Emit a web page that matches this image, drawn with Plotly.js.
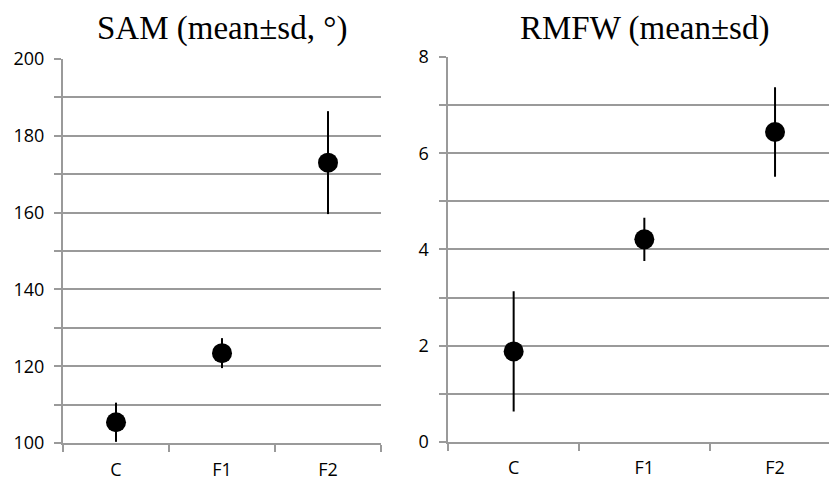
<!DOCTYPE html>
<html>
<head>
<meta charset="utf-8">
<script src="https://cdn.plot.ly/plotly-3.0.1.min.js"></script>
<style>html,body{margin:0;padding:0;background:#fff;}#chart{width:829px;height:480px;}</style>
</head>
<body>
<div id="chart"></div>
<script>
const categories = ["C", "F1", "F2"];
const samMean = [105.4, 123.4, 173.0];
const samSd = [5.1, 3.9, 13.4];
const rmfwMean = [1.88, 4.21, 6.44];
const rmfwSd = [1.25, 0.45, 0.93];
const samTickVals = [100, 110, 120, 130, 140, 150, 160, 170, 180, 190, 200];
const samTickText = ["100", "", "120", "", "140", "", "160", "", "180", "", "200"];
const rmfwTickVals = [0, 1, 2, 3, 4, 5, 6, 7, 8];
const rmfwTickText = ["0", "", "2", "", "4", "", "6", "", "8"];
const samTitle = "SAM (mean±sd, °)";
const rmfwTitle = "RMFW (mean±sd)";

const gridColor = "#9a9a9a";
const tickFont = {family: "Open Sans", size: 18, color: "#000"};

function pointTrace(y, sd, xa, ya) {
  return {
    type: "scatter", mode: "markers", x: categories, y: y,
    xaxis: xa, yaxis: ya,
    marker: {color: "#000", size: 20},
    error_y: {type: "data", array: sd, visible: true, color: "#000", thickness: 2, width: 0},
    hoverinfo: "skip", showlegend: false
  };
}

const data = [
  pointTrace(samMean, samSd, "x", "y"),
  pointTrace(rmfwMean, rmfwSd, "x2", "y2")
];

function xAxis(domain, anchor, range) {
  return {
    domain: domain, anchor: anchor, type: "category", range: range,
    tickson: "boundaries", ticks: "outside", ticklen: 7, tickwidth: 2, tickcolor: gridColor,
    showline: true, linecolor: gridColor, linewidth: 2,
    showgrid: false, zeroline: false, tickfont: tickFont, ticklabelstandoff: 9,
    fixedrange: true
  };
}
function yAxis(domain, anchor, range, vals, text, standoff) {
  return {
    domain: domain, anchor: anchor, range: range, tickmode: "array", tickvals: vals, ticktext: text,
    ticks: "outside", ticklen: 7, tickwidth: 2, tickcolor: gridColor,
    showline: true, linecolor: gridColor, linewidth: 2,
    showgrid: true, gridcolor: gridColor, gridwidth: 2,
    zeroline: false, tickfont: tickFont, ticklabelstandoff: standoff,
    fixedrange: true
  };
}

const layout = {
  width: 829, height: 480,
  margin: {l: 0, r: 0, t: 57, b: 37},
  paper_bgcolor: "#fff", plot_bgcolor: "#fff",
  showlegend: false,
  xaxis: xAxis([0.076, 0.4596], "y", [-0.5, 2.5]),
  yaxis: yAxis([0, 0.995], "x", [100, 200], samTickVals, samTickText, 6),
  xaxis2: xAxis([0.5408, 1.0], "y2", [-0.5, 2.413]),
  yaxis2: yAxis([0.003, 1.0], "x2", [0, 8], rmfwTickVals, rmfwTickText, 7),
  annotations: [
    {text: samTitle, xref: "paper", yref: "paper", x: 0.268, y: 1.075, xanchor: "center", yanchor: "middle",
     showarrow: false, font: {family: "Liberation Serif", size: 33, color: "#000"}},
    {text: rmfwTitle, xref: "paper", yref: "paper", x: 0.778, y: 1.075, xanchor: "center", yanchor: "middle",
     showarrow: false, font: {family: "Liberation Serif", size: 33, color: "#000"}}
  ]
};

Plotly.newPlot("chart", data, layout, {displayModeBar: false, staticPlot: true});
</script>
</body>
</html>
